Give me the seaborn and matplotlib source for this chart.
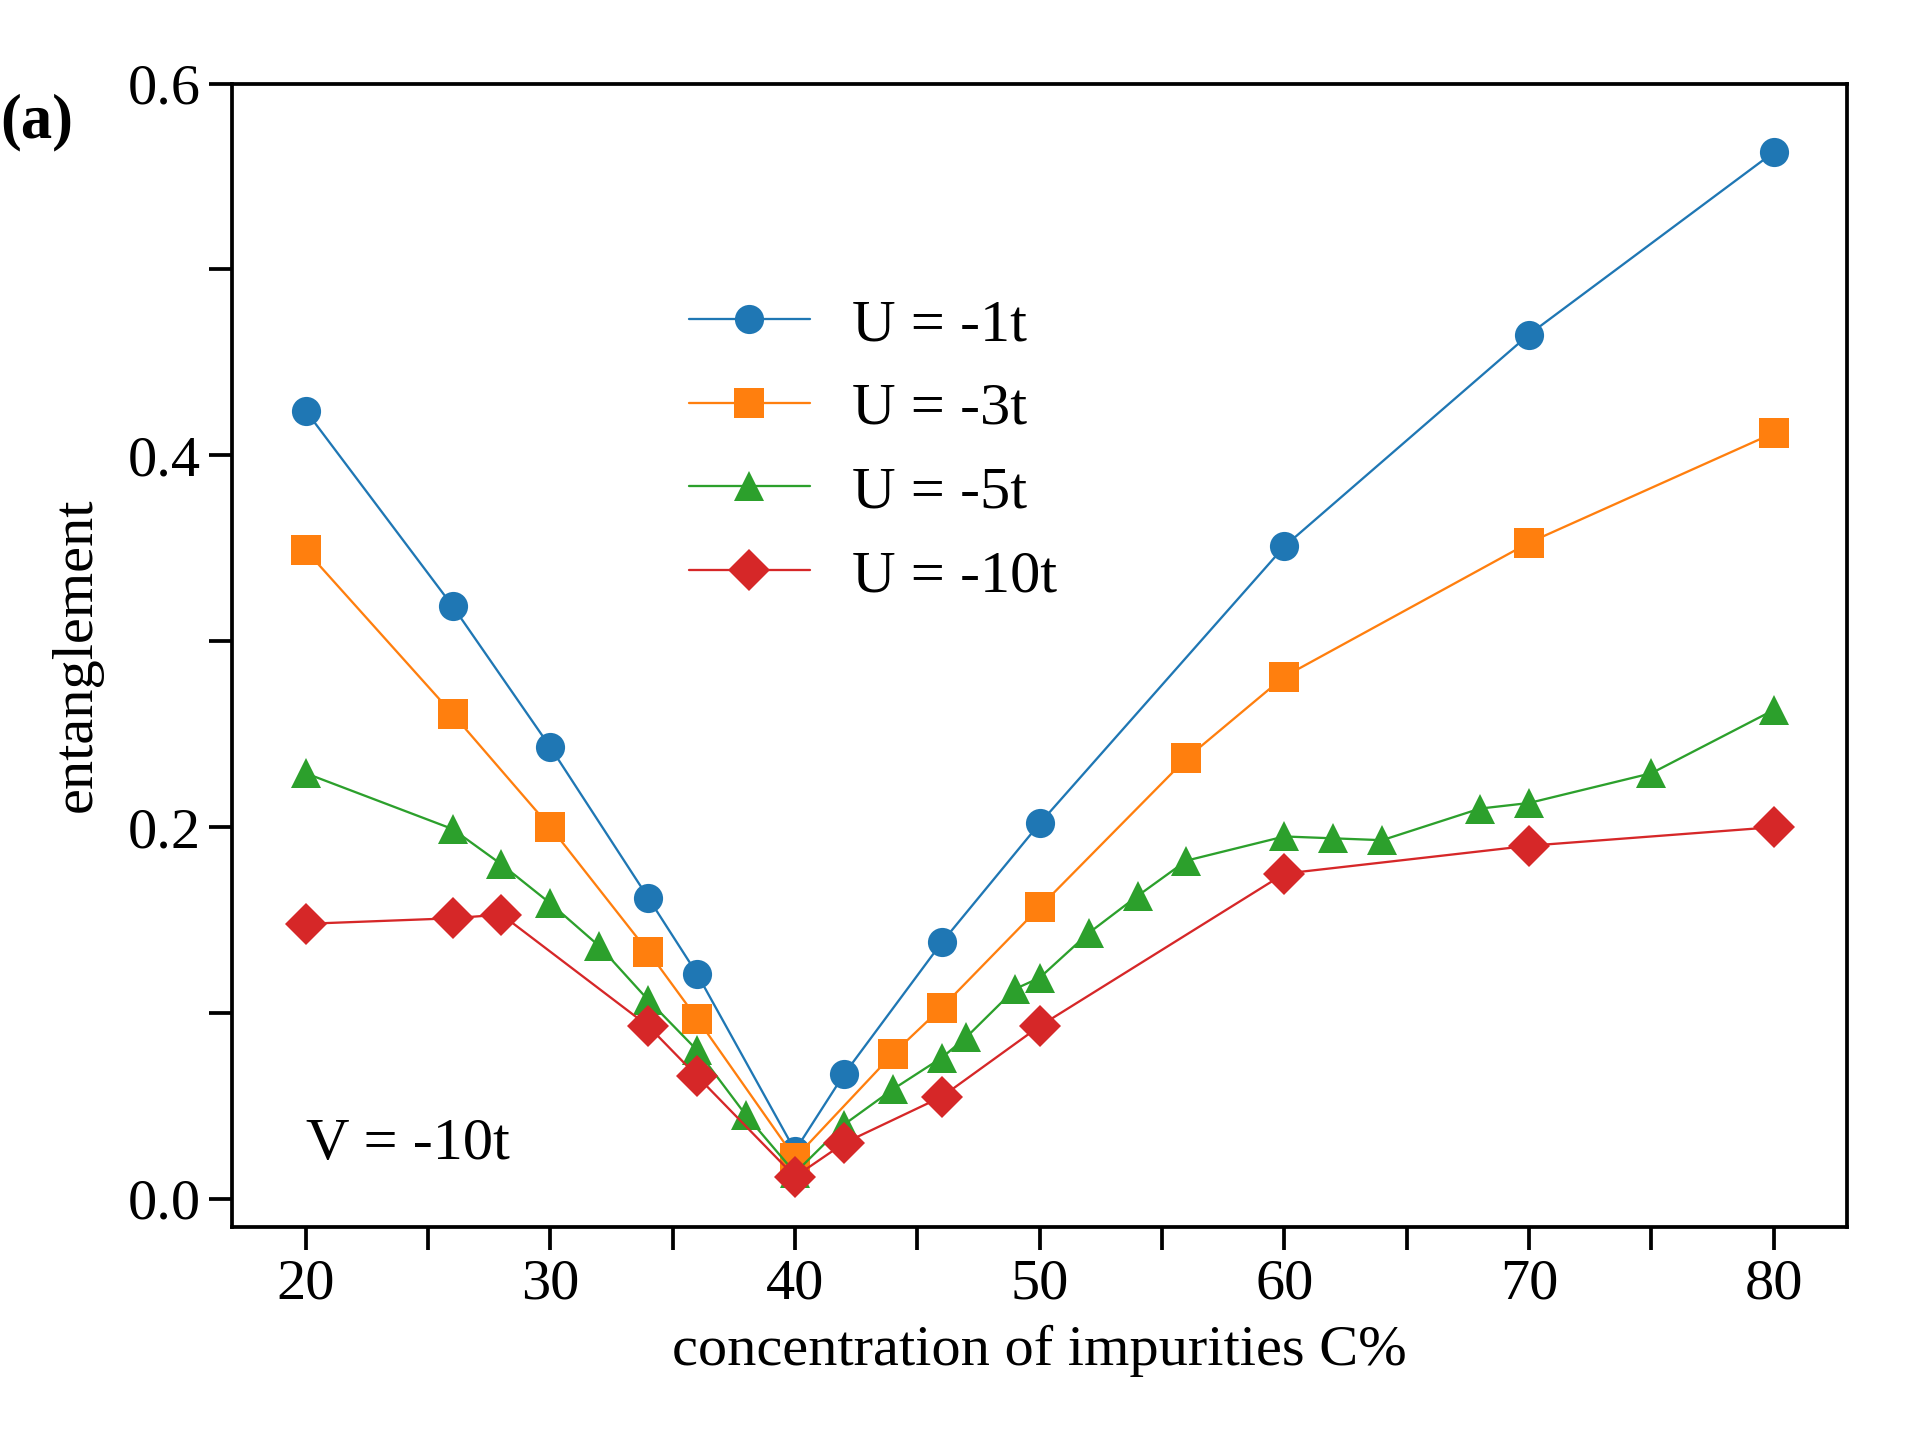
"""
Entanglement vs impurity concentration for several U values at V = -10t.
"""

import matplotlib.pyplot as plt
import seaborn as sns

# data
c_u1 = [20, 26, 30, 34, 36, 40, 42, 46, 50, 60, 70, 80]
e_u1 = [0.424, 0.319, 0.243, 0.162, 0.121, 0.026, 0.067, 0.138, 0.202, 0.351, 0.465, 0.563]

c_u3 = [20, 26, 30, 34, 36, 40, 44, 46, 50, 56, 60, 70, 80]
e_u3 = [0.349, 0.261, 0.200, 0.133, 0.097, 0.022, 0.078, 0.103, 0.157, 0.237, 0.281, 0.353, 0.412]

c_u5 = [20, 26, 28, 30, 32, 34, 36, 38, 40, 42, 44, 46, 47, 49, 50, 52, 54, 56,
        60, 62, 64, 68, 70, 75, 80]
e_u5 = [0.229, 0.199, 0.180, 0.159, 0.136, 0.107, 0.080, 0.045, 0.014, 0.040,
        0.059, 0.076, 0.087, 0.113, 0.119, 0.143, 0.163, 0.182, 0.195, 0.194,
        0.193, 0.210, 0.213, 0.229, 0.263]

c_u10 = [20, 26, 28, 34, 36, 40, 42, 46, 50, 60, 70, 80]
e_u10 = [0.148, 0.151, 0.153, 0.093, 0.066, 0.012, 0.030, 0.055, 0.093, 0.175, 0.190, 0.200]

labels = ["U = -1t", "U = -3t", "U = -5t", "U = -10t"]
markers = ["o", "s", "^", "D"]

sns.set_theme(style="ticks")
plt.rcParams["font.family"] = ["Liberation Serif", "DejaVu Serif"]
plt.rcParams["text.color"] = "black"
plt.rcParams["axes.labelcolor"] = "black"

colors = sns.color_palette("tab10", 4)

fig = plt.figure(figsize=(6.4, 4.8), dpi=300)
ax = fig.add_axes([0.121, 0.148, 0.841, 0.794])

series = [(c_u1, e_u1), (c_u3, e_u3), (c_u5, e_u5), (c_u10, e_u10)]
for (c, e), lab, m, col in zip(series, labels, markers, colors):
    sns.lineplot(x=c, y=e, ax=ax, color=col, marker=m, markersize=7,
                 markeredgewidth=0, linewidth=0.55, label=lab)

ax.set_xlim(17, 83)
ax.set_ylim(-0.015, 0.6)
ax.set_xticks(range(20, 81, 5))
ax.set_xticklabels([str(v) if v % 10 == 0 else "" for v in range(20, 81, 5)])
ax.set_yticks([0.0, 0.1, 0.2, 0.3, 0.4, 0.5, 0.6])
ax.set_yticklabels(["0.0", "", "0.2", "", "0.4", "", "0.6"])
ax.tick_params(axis="both", labelsize=14, length=5.5, width=0.9, pad=2,
               colors="black", labelcolor="black")
for s in ax.spines.values():
    s.set_linewidth(0.9)
    s.set_color("black")

ax.set_xlabel("concentration of impurities C%", fontsize=14, labelpad=3.5)
ax.set_ylabel("entanglement", fontsize=14, labelpad=6)

ax.text(20, 0.029, "V = -10t", fontsize=14.5, ha="left", va="center")
fig.text(0.0, 0.915, "(a)", fontsize=15, fontweight="bold", ha="left", va="center")

ax.legend(loc="upper left", bbox_to_anchor=(0.249, 0.86), frameon=False,
          fontsize=14.5, handlelength=2.0, handletextpad=0.7, labelspacing=0.47)

plt.savefig("out.png", dpi=300)
